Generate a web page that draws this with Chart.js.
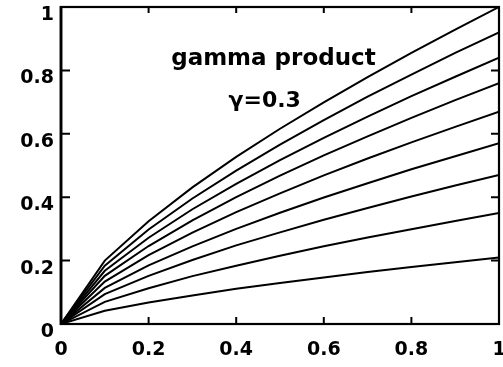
<!DOCTYPE html>
<html>
<head>
<meta charset="utf-8">
<script src="https://cdn.jsdelivr.net/npm/chart.js@4/dist/chart.umd.min.js"></script>
<style>
  html, body { margin: 0; padding: 0; background: #ffffff; }
  #c { display: block; }
</style>
</head>
<body>
<canvas id="c" width="503" height="367"></canvas>
<script>
// Sample positions along the horizontal axis
const xs = [0, 0.1, 0.2, 0.3, 0.4, 0.5, 0.6, 0.7, 0.8, 0.9, 1.0];

// One curve per level, top to bottom
const curve1 = [0, 0.200, 0.324, 0.431, 0.527, 0.616, 0.699, 0.779, 0.855, 0.929, 1.000];
const curve2 = [0, 0.184, 0.298, 0.396, 0.484, 0.566, 0.643, 0.717, 0.787, 0.855, 0.920];
const curve3 = [0, 0.168, 0.272, 0.362, 0.442, 0.517, 0.587, 0.654, 0.719, 0.780, 0.840];
const curve4 = [0, 0.152, 0.246, 0.327, 0.400, 0.468, 0.532, 0.592, 0.650, 0.706, 0.760];
const curve5 = [0, 0.134, 0.217, 0.288, 0.353, 0.412, 0.469, 0.522, 0.573, 0.622, 0.670];
const curve6 = [0, 0.114, 0.185, 0.245, 0.300, 0.351, 0.399, 0.444, 0.488, 0.529, 0.570];
const curve7 = [0, 0.094, 0.152, 0.202, 0.248, 0.289, 0.329, 0.366, 0.402, 0.437, 0.470];
const curve8 = [0, 0.070, 0.113, 0.151, 0.184, 0.215, 0.245, 0.273, 0.299, 0.325, 0.350];
const curve9 = [0, 0.042, 0.068, 0.090, 0.111, 0.129, 0.147, 0.164, 0.180, 0.195, 0.210];

const curves = [curve1, curve2, curve3, curve4, curve5, curve6, curve7, curve8, curve9];

// Axis tick values
const tickValues = [0, 0.2, 0.4, 0.6, 0.8, 1];
const innerTicks = [0.2, 0.4, 0.6, 0.8];

// Text inside the plot
const titleText = 'gamma product';
const gammaText = 'γ=0.3';

const FONT = '"DejaVu Sans", sans-serif';

const datasets = curves.map((ys, i) => ({
  label: 'curve ' + (i + 1),
  data: xs.map((x, j) => ({ x: x, y: ys[j] })),
  borderColor: '#000000',
  borderWidth: 2,
  pointRadius: 0,
  fill: false,
  tension: 0
}));

// Frame, inward tick marks and the annotation text
const framePlugin = {
  id: 'frame',
  afterDatasetsDraw(chart) {
    const { ctx, chartArea: a, scales } = chart;
    const xS = scales.x, yS = scales.y;
    ctx.save();
    ctx.strokeStyle = '#000000';
    ctx.lineCap = 'butt';

    // box
    ctx.lineWidth = 2.2;
    ctx.strokeRect(a.left, a.top, a.right - a.left, a.bottom - a.top);
    ctx.lineWidth = 2.8;
    ctx.beginPath();
    ctx.moveTo(a.left, a.top - 1);
    ctx.lineTo(a.left, a.bottom + 1);
    ctx.stroke();

    // ticks pointing into the plot
    ctx.lineWidth = 2;
    ctx.beginPath();
    innerTicks.forEach(v => {
      const py = yS.getPixelForValue(v);
      ctx.moveTo(a.left, py); ctx.lineTo(a.left + 9, py);
      ctx.moveTo(a.right, py); ctx.lineTo(a.right - 8, py);
      const px = xS.getPixelForValue(v);
      ctx.moveTo(px, a.bottom); ctx.lineTo(px, a.bottom - 7);
      ctx.moveTo(px, a.top); ctx.lineTo(px, a.top + 6);
    });
    ctx.stroke();

    // annotation
    ctx.fillStyle = '#000000';
    ctx.textAlign = 'center';
    ctx.textBaseline = 'alphabetic';
    ctx.font = 'bold 23px ' + FONT;
    ctx.fillText(titleText, xS.getPixelForValue(0.485), yS.getPixelForValue(0.818));
    ctx.font = 'bold 22px ' + FONT;
    ctx.fillText(gammaText, xS.getPixelForValue(0.465), yS.getPixelForValue(0.685));
    ctx.restore();
  }
};

new Chart(document.getElementById('c'), {
  type: 'line',
  data: { datasets: datasets },
  plugins: [framePlugin],
  options: {
    responsive: false,
    animation: false,
    devicePixelRatio: 1,
    layout: { padding: { top: 7, right: 4, left: 0, bottom: 0 } },
    plugins: { legend: { display: false }, tooltip: { enabled: false }, title: { display: false } },
    scales: {
      x: {
        type: 'linear',
        min: 0, max: 1,
        grid: { display: false, drawTicks: false },
        border: { display: false },
        afterBuildTicks(scale) { scale.ticks = tickValues.map(v => ({ value: v })); },
        afterFit(scale) { scale.height = 43; scale.paddingLeft = 0; scale.paddingRight = 0; },
        ticks: {
          color: '#000000',
          font: { family: FONT, size: 19, weight: 'bold' },
          padding: 15,
          maxRotation: 0,
          autoSkip: false,
          callback: v => String(v)
        }
      },
      y: {
        type: 'linear',
        min: 0, max: 1,
        grid: { display: false, drawTicks: false },
        border: { display: false },
        afterBuildTicks(scale) { scale.ticks = tickValues.map(v => ({ value: v })); },
        afterFit(scale) { scale.width = 61; scale.paddingTop = 0; scale.paddingBottom = 0; },
        ticks: {
          color: '#000000',
          font: { family: FONT, size: 19, weight: 'bold' },
          padding: 7,
          labelOffset: 8,
          autoSkip: false,
          callback: v => String(v)
        }
      }
    }
  }
});
</script>
</body>
</html>
